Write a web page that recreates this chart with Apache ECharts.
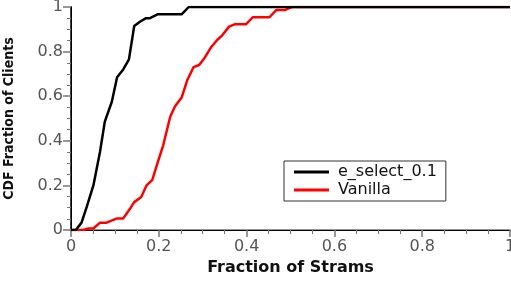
<!DOCTYPE html>
<html>
<head>
<meta charset="utf-8">
<script src="https://cdn.jsdelivr.net/npm/echarts@6/dist/echarts.min.js"></script>
<style>
  html, body { margin: 0; padding: 0; background: #fff; }
  #chart { width: 511px; height: 282px; }
</style>
</head>
<body>
<div id="chart"></div>
<script>
// e_select_0.1 CDF points [fraction of streams, CDF]
const eSelect = [
  [0, 0], [0.011, 0], [0.024, 0.033], [0.036, 0.105], [0.051, 0.2],
  [0.066, 0.35], [0.077, 0.486], [0.093, 0.575], [0.105, 0.685],
  [0.119, 0.72], [0.132, 0.765], [0.144, 0.915], [0.157, 0.934],
  [0.171, 0.95], [0.18, 0.95], [0.197, 0.967], [0.252, 0.967],
  [0.268, 1], [1, 1]
];
// Vanilla CDF points
const vanilla = [
  [0, 0], [0.028, 0], [0.04, 0.007], [0.051, 0.007], [0.066, 0.033],
  [0.081, 0.033], [0.105, 0.052], [0.119, 0.052], [0.136, 0.1],
  [0.144, 0.125], [0.16, 0.148], [0.172, 0.2], [0.185, 0.224],
  [0.197, 0.3], [0.21, 0.38], [0.226, 0.508], [0.237, 0.555],
  [0.252, 0.594], [0.265, 0.673], [0.279, 0.73], [0.292, 0.74],
  [0.305, 0.774], [0.32, 0.822], [0.333, 0.852], [0.345, 0.874],
  [0.36, 0.912], [0.374, 0.923], [0.399, 0.923], [0.414, 0.954],
  [0.452, 0.954], [0.468, 0.987], [0.488, 0.987], [0.503, 1], [1, 1]
];
const seriesNames = ["e_select_0.1", "Vanilla"];
const seriesColors = ["#000000", "#ff0000"];

const chart = echarts.init(document.getElementById("chart"));
const labelStyle = { color: "#555", fontSize: 16, fontFamily: "DejaVu Sans" };
chart.setOption({
  animation: false,
  grid: { left: 71, right: 1, top: 7, bottom: 52, containLabel: false, outerBoundsMode: "none" },
  legend: {
    left: 284, top: 161,
    orient: "vertical",
    itemWidth: 35, itemHeight: 3, itemGap: 2,
    padding: [3, 9, 3, 10],
    borderColor: "#333", borderWidth: 1,
    icon: "rect",
    textStyle: { color: "#111", fontSize: 16, fontFamily: "DejaVu Sans", padding: [0, 0, 0, 4] },
    data: seriesNames
  },
  xAxis: [{
    type: "value", min: 0, max: 1, interval: 0.2,
    name: "Fraction of Strams", nameLocation: "middle", nameGap: 30,
    nameTextStyle: { color: "#111", fontSize: 16, fontWeight: "bold", fontFamily: "DejaVu Sans" },
    axisLine: { lineStyle: { color: "#777", width: 1.5 } },
    axisTick: { length: 7, lineStyle: { color: "#777", width: 1.5 } },
    minorTick: { show: true, splitNumber: 4, length: 4, lineStyle: { color: "#777" } },
    axisLabel: Object.assign({ margin: 9, formatter: v => String(+v.toFixed(1)) }, labelStyle),
    splitLine: { show: false }
  }, {
    type: "value", min: 0, max: 1, position: "top",
    axisLine: { lineStyle: { color: "#000", width: 1 } },
    axisTick: { show: false }, axisLabel: { show: false }, splitLine: { show: false }
  }],
  yAxis: [{
    type: "value", min: 0, max: 1, interval: 0.2,
    name: "CDF Fraction of Clients", nameLocation: "middle", nameGap: 55,
    nameTextStyle: { color: "#111", fontSize: 14, fontWeight: "bold", fontFamily: "DejaVu Sans Condensed" },
    axisLine: { lineStyle: { color: "#000", width: 1.5 } },
    axisTick: { length: 8, lineStyle: { color: "#777", width: 1.5 } },
    minorTick: { show: true, splitNumber: 4, length: 4, lineStyle: { color: "#777" } },
    axisLabel: Object.assign({ margin: 8, formatter: v => String(+v.toFixed(1)) }, labelStyle),
    splitLine: { show: false }
  }, {
    type: "value", min: 0, max: 1, position: "right",
    axisLine: { show: true, lineStyle: { color: "#000", width: 1 } },
    axisTick: { show: false }, axisLabel: { show: false }, splitLine: { show: false }
  }],
  series: [eSelect, vanilla].map((d, i) => ({
    name: seriesNames[i],
    type: "line",
    data: d,
    showSymbol: false,
    color: seriesColors[i],
    lineStyle: { color: seriesColors[i], width: 2.5 },
    z: 3 - i
  }))
});
</script>
</body>
</html>
